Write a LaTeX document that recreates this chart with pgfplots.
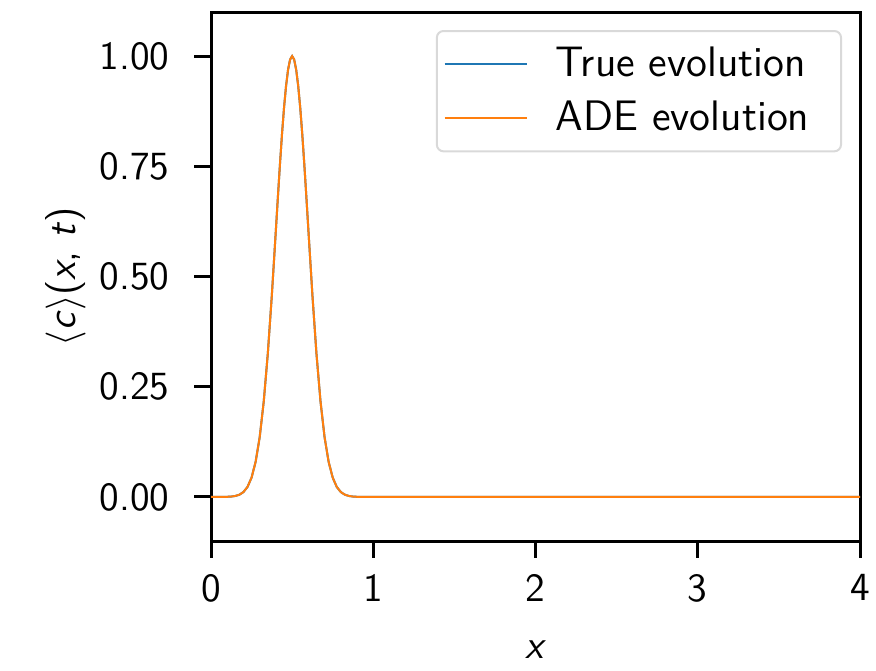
\documentclass[border=0pt]{standalone}
\usepackage{pgfplots}
\pgfplotsset{compat=1.18}
\renewcommand{\familydefault}{\sfdefault}
\definecolor{mplblue}{HTML}{1F77B4}
\definecolor{mplorange}{HTML}{FF7F0E}
\pgfplotstableread{
x y
0 0
0.05 0.00004
0.075 0.00012
0.1 0.00034
0.125 0.00089
0.15 0.0022
0.175 0.0051
0.2 0.0111
0.225 0.0228
0.25 0.0439
0.275 0.0796
0.3 0.1353
0.325 0.2163
0.35 0.3247
0.375 0.4578
0.4 0.6065
0.4125 0.6819
0.425 0.7548
0.4375 0.8226
0.45 0.8825
0.4625 0.9321
0.475 0.9692
0.4875 0.9922
0.5 1.0
0.5125 0.9922
0.525 0.9692
0.5375 0.9321
0.55 0.8825
0.5625 0.8226
0.575 0.7548
0.5875 0.6819
0.6 0.6065
0.625 0.4578
0.65 0.3247
0.675 0.2163
0.7 0.1353
0.725 0.0796
0.75 0.0439
0.775 0.0228
0.8 0.0111
0.825 0.0051
0.85 0.0022
0.875 0.00089
0.9 0.00034
0.925 0.00012
0.95 0.00004
1.0 0
1.5 0
2 0
2.5 0
3 0
3.5 0
4 0
}\truedata
\pgfplotstableread{
x y
0 0
0.05 0.00004
0.075 0.00012
0.1 0.00034
0.125 0.00089
0.15 0.0022
0.175 0.0051
0.2 0.0111
0.225 0.0228
0.25 0.0439
0.275 0.0796
0.3 0.1353
0.325 0.2163
0.35 0.3247
0.375 0.4578
0.4 0.6065
0.4125 0.6819
0.425 0.7548
0.4375 0.8226
0.45 0.8825
0.4625 0.9321
0.475 0.9692
0.4875 0.9922
0.5 1.0
0.5125 0.9922
0.525 0.9692
0.5375 0.9321
0.55 0.8825
0.5625 0.8226
0.575 0.7548
0.5875 0.6819
0.6 0.6065
0.625 0.4578
0.65 0.3247
0.675 0.2163
0.7 0.1353
0.725 0.0796
0.75 0.0439
0.775 0.0228
0.8 0.0111
0.825 0.0051
0.85 0.0022
0.875 0.00089
0.9 0.00034
0.925 0.00012
0.95 0.00004
1.0 0
1.5 0
2 0
2.5 0
3 0
3.5 0
4 0
}\adedata
\begin{document}
\begin{tikzpicture}
\begin{axis}[
  name=ax,
  scale only axis,
  width=194.7pt, height=158.7pt,
  xmin=0, xmax=4, ymin=-0.1, ymax=1.1,
  xtick={0,1,2,3,4},
  ytick={0,0.25,0.5,0.75,1},
  /pgf/number format/assume math mode=true,
  tick label style={font=\fontsize{12}{14}\selectfont\sffamily},
  yticklabel style={xshift=-3.9pt, /pgf/number format/.cd, fixed, fixed zerofill, precision=2},
  xticklabel style={yshift=-1.5pt, inner xsep=0pt},
  label style={font=\fontsize{12}{14}\selectfont\sffamily},
  xlabel shift=4.7pt,
  ylabel shift=-2.6pt,
  tick align=outside,
  tick pos=left,
  major tick length=5pt,
  axis line style={line width=0.9pt},
  every tick/.style={line width=0.9pt, black},
  xlabel={\textit{x}},
  ylabel={\ensuremath{\langle}\textit{c}\ensuremath{\rangle}(\textit{x}, \textit{t})},
  legend cell align=left,
  legend image code/.code={\draw[#1] (0pt,0pt) -- (24.6pt,0pt);},
  legend style={
    at={(1,1)}, anchor=north east, xshift=-5.4pt, yshift=-5.4pt,
    draw=black!15, line width=0.6pt, rounded corners=2pt, fill=white,
    font=\fontsize{12.8}{14}\selectfont\sffamily,
    inner xsep=2pt, inner ysep=3pt,
    row sep=2.5pt,
    nodes={inner xsep=2.5pt, inner ysep=2pt, text height=8.5pt, text depth=1.3pt},
  },
]
\addplot[mplblue, line width=0.6pt] table[x=x, y=y] {\truedata};
\addlegendentry{\hspace*{6pt}True evolution\hspace*{5pt}}
\addplot[mplorange, line width=0.6pt] table[x=x, y=y] {\adedata};
\addlegendentry{\hspace*{6pt}ADE evolution\hspace*{5pt}}
\end{axis}
\path ([xshift=-63.3pt, yshift=-38.7pt]ax.south west) rectangle ([xshift=4.8pt, yshift=3.6pt]ax.north east);
\end{tikzpicture}
\end{document}
